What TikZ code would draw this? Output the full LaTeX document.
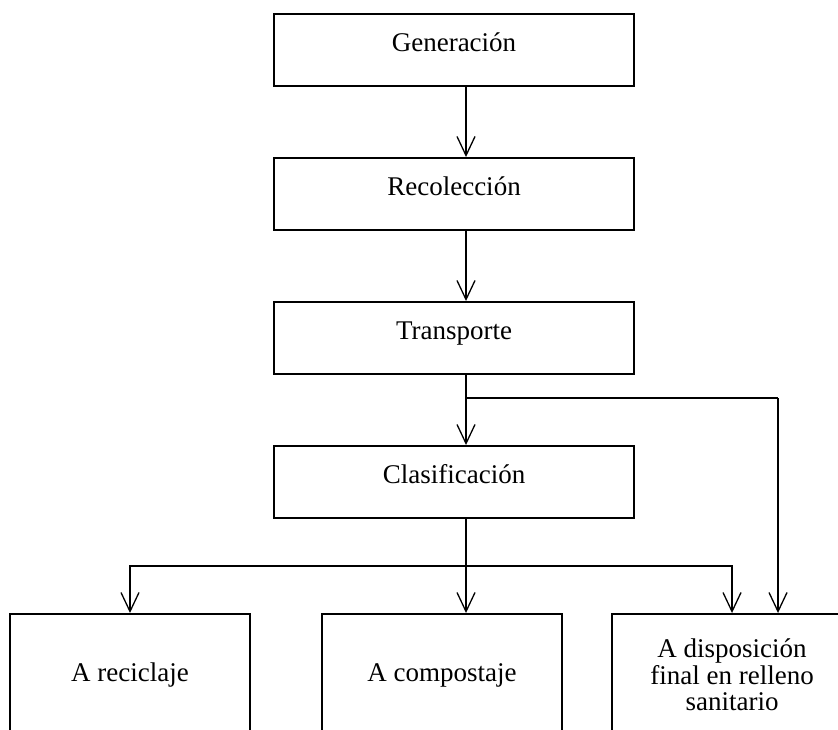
\documentclass[tikz,border=0pt]{standalone}
\usepackage{fontspec}
\setmainfont{Liberation Serif}
\usetikzlibrary{arrows.meta}

\begin{document}
\begin{tikzpicture}[x=0.5pt,y=-0.5pt]
\tikzset{
  stagebox/.style={rectangle,draw=black,line width=1pt,minimum width=180pt,minimum height=36pt,
    inner sep=0pt,text height=9.5pt,text depth=8.5pt,font=\fontsize{13.5}{13.3}\selectfont},
  endbox/.style={rectangle,draw=black,line width=1pt,minimum width=120pt,minimum height=61pt,
    anchor=north,inner sep=0pt,align=center,font=\fontsize{13.5}{13.3}\selectfont},
  flowline/.style={draw=black,line width=0.65pt},
  flow/.style={flowline,-{Straight Barb[length=9.5pt,width=9pt,line width=0.65pt]}}
}
\useasboundingbox (0,0) rectangle (838,729);
\clip (0,0) rectangle (838,729);
% main chain
\node[stagebox] (n_gen) at (454,50) {Generación};
\node[stagebox] (n_rec) at (454,194) {Recolección};
\node[stagebox] (n_tra) at (454,338) {Transporte};
\node[stagebox] (n_cla) at (454,482) {Clasificación};
% destinations (cut off at the bottom edge)
\node[endbox] (n_rcl) at (130,613) {A reciclaje};
\node[endbox] (n_com) at (442,613) {A compostaje};
\node[endbox] (n_dis) at (732,613) {A disposición\\final en relleno\\sanitario};
% branch points
\coordinate (c_spine) at (466,0);
\coordinate (c_split) at (466,398);
\coordinate (c_fill) at (778,398);
\coordinate (c_fork) at (466,566);
\draw[flow] (n_gen.south -| c_spine) -- (n_rec.north -| c_spine);
\draw[flow] (n_rec.south -| c_spine) -- (n_tra.north -| c_spine);
\draw[flow] (n_tra.south -| c_spine) -- (n_cla.north -| c_spine);
\draw[flowline] (c_split) -- (c_fill);
\draw[flow] (c_fill) -- (c_fill |- n_dis.north);
\draw[flow] (n_cla.south -| c_spine) -- (n_com.north -| c_spine);
\draw[flow] (c_fork) -| (n_rcl.north);
\draw[flow] (c_fork) -| (n_dis.north);
\end{tikzpicture}
\end{document}
